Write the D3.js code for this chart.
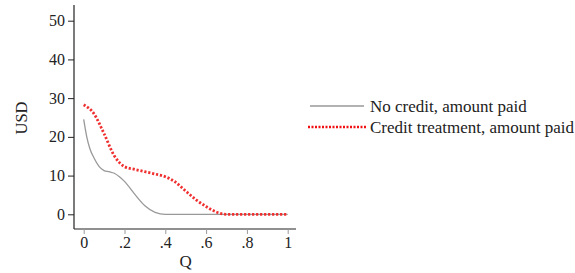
<!DOCTYPE html>
<html>
<head>
<meta charset="utf-8">
<script src="https://cdn.jsdelivr.net/npm/d3@7"></script>
<style>
  body { margin: 0; background: #fff; }
  svg text { font-family: "Liberation Serif", "DejaVu Serif", serif; fill: #222; }
</style>
</head>
<body>
<div id="chart"></div>
<script>
// Q grid for each curve
const qNoCredit = [0, 0.015, 0.03, 0.05, 0.075, 0.1, 0.125, 0.15, 0.175, 0.2, 0.25, 0.3, 0.35, 0.4, 0.5, 0.6, 0.7, 0.8, 0.9, 1]
const noCredit = [24.5, 20, 17, 14.6, 12.4, 11.3, 11.0, 10.6, 9.7, 8.5, 5.2, 2.2, 0.5, 0, 0, 0, 0, 0, 0, 0]
const qCredit = [0, 0.05, 0.1, 0.15, 0.2, 0.25, 0.3, 0.35, 0.4, 0.45, 0.5, 0.55, 0.6, 0.65, 0.7, 0.8, 0.9, 1]
const credit = [28.3, 26.0, 20.8, 15.1, 12.3, 11.6, 11.0, 10.4, 9.7, 8.3, 6.0, 3.8, 2.0, 0.6, 0, 0, 0, 0]
const xTicks = [0, 0.2, 0.4, 0.6, 0.8, 1]
const xTickLabels = ["0", ".2", ".4", ".6", ".8", "1"]
const yTicks = [0, 10, 20, 30, 40, 50]
const legendLabels = ["No credit, amount paid", "Credit treatment, amount paid"]

const width = 575, height = 273

const svg = d3.select("#chart").append("svg")
    .attr("width", width)
    .attr("height", height)

const xScale = d3.scaleLinear().domain([0, 1]).range([83.7, 287.7])
const yScale = d3.scaleLinear().domain([0, 50]).range([214.3, 20.7])

// axes lines
svg.append("line")
    .attr("x1", 74).attr("x2", 74).attr("y1", 5).attr("y2", 229)
    .attr("stroke", "#222").attr("stroke-width", 1.2)
svg.append("line")
    .attr("x1", 74).attr("x2", 296).attr("y1", 229).attr("y2", 229)
    .attr("stroke", "#222").attr("stroke-width", 1.2)

const xAxis = d3.axisBottom(xScale)
    .tickValues(xTicks)
    .tickFormat((d, i) => xTickLabels[i])
    .tickSize(5).tickPadding(3)
const yAxis = d3.axisLeft(yScale)
    .tickValues(yTicks)
    .tickSize(6).tickPadding(3)

const gx = svg.append("g")
    .attr("transform", "translate(0,229)")
    .call(xAxis)
gx.select(".domain").remove()
gx.selectAll(".tick line").attr("stroke", "#999").attr("stroke-width", 1)
gx.selectAll("text").attr("font-size", 16).attr("fill", "#222")
    .attr("font-family", "Liberation Serif")

const gy = svg.append("g")
    .attr("transform", "translate(74,0)")
    .call(yAxis)
gy.select(".domain").remove()
gy.selectAll(".tick line").attr("stroke", "#222").attr("stroke-width", 1)
gy.selectAll("text").attr("font-size", 16).attr("fill", "#222")
    .attr("font-family", "Liberation Serif")

// axis titles
svg.append("text")
    .attr("x", xScale(0.5)).attr("y", 267)
    .attr("text-anchor", "middle")
    .attr("font-size", 17)
    .text("Q")
svg.append("text")
    .attr("transform", "translate(27,118) rotate(-90)")
    .attr("text-anchor", "middle")
    .attr("font-size", 16.5)
    .text("USD")

const line = d3.line()
    .x(d => xScale(d[0]))
    .y(d => yScale(d[1]))
    .curve(d3.curveMonotoneX)

svg.append("path")
    .datum(d3.zip(qNoCredit, noCredit))
    .attr("fill", "none")
    .attr("stroke", "#999")
    .attr("stroke-width", 1.3)
    .attr("d", line)

svg.append("path")
    .datum(d3.zip(qCredit, credit))
    .attr("fill", "none")
    .attr("stroke", "#f03030")
    .attr("stroke-width", 2.8)
    .attr("stroke-dasharray", "2.2,1.8")
    .attr("d", line)

// legend
const legend = svg.append("g")
legend.append("line")
    .attr("x1", 310).attr("x2", 364).attr("y1", 106).attr("y2", 106)
    .attr("stroke", "#999").attr("stroke-width", 1.3)
legend.append("line")
    .attr("x1", 308).attr("x2", 366).attr("y1", 127).attr("y2", 127)
    .attr("stroke", "#f01010").attr("stroke-width", 2.4)
    .attr("stroke-dasharray", "2,1.5")
legend.selectAll("text.lbl")
    .data(legendLabels)
    .join("text")
    .attr("class", "lbl")
    .attr("x", 370)
    .attr("y", (d, i) => 112 + i * 21)
    .attr("font-size", 17)
    .text(d => d)
</script>
</body>
</html>
